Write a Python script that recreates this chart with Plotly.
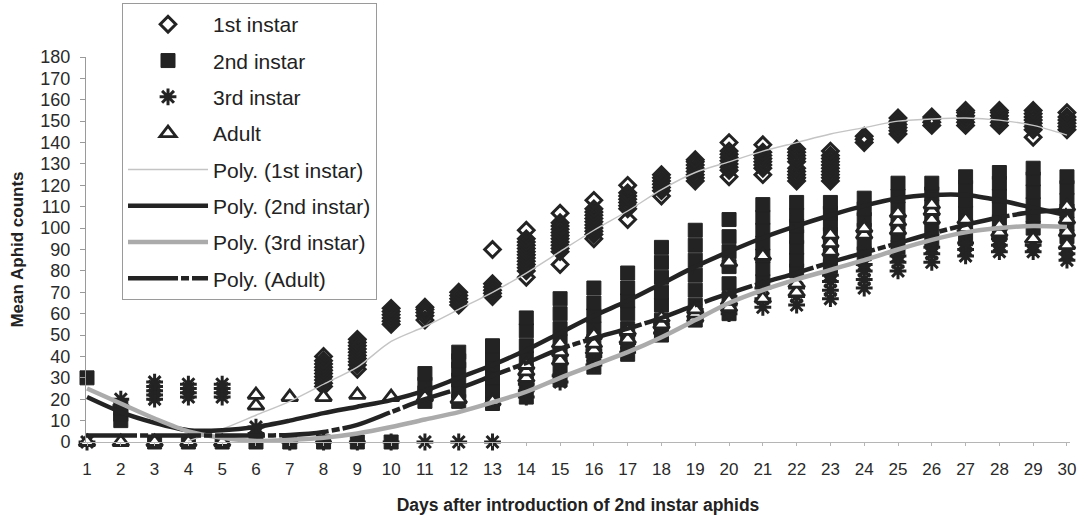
import plotly.graph_objects as go

days = list(range(1, 31))
tick_labels = [str(d) for d in days]

# replicate counts per day
first_instar = [
    [], [], [], [], [], [], [],
    [26, 27.5, 29, 30.5, 32, 33.5, 35, 36.5, 38, 40],
    [34, 36, 37.5, 39, 40.5, 42, 43.5, 45, 46.5, 48],
    [55, 56.5, 58, 59.5, 61, 62.5],
    [57, 59, 60.5, 62, 63],
    [64, 65.5, 67, 68.5, 70],
    [68, 69.5, 71, 72.5, 74, 90],
    [77, 80, 81.5, 83, 84.5, 86, 87.5, 89, 90.5, 92, 93.5, 95, 99],
    [83, 89, 90.5, 92, 93.5, 95, 96.5, 98, 99.5, 101, 102.5, 107],
    [95, 97, 98.5, 100, 101.5, 103, 104.5, 106, 107.5, 109, 113],
    [104, 109, 110.5, 112, 113.5, 115, 116.5, 120],
    [115, 117.5, 119, 120.5, 122, 123.5, 125],
    [122, 123.5, 125, 126.5, 128, 129.5, 131, 132],
    [124, 127, 128.5, 130, 131.5, 133, 134.5, 136, 140],
    [125, 128, 129.5, 131, 132.5, 134, 135.5, 139],
    [122, 123.5, 125, 126.5, 128, 131, 132.5, 134, 135.5, 137],
    [122, 123.5, 125, 126.5, 128, 129.5, 131, 132.5, 134, 136],
    [140, 141.5, 143],
    [144, 145.5, 147, 148.5, 150, 151.5],
    [148, 149.5, 151, 152],
    [148, 149.5, 151, 152.5, 154, 155],
    [148, 149.5, 151, 152.5, 154, 155],
    [142.5, 146, 147.5, 149, 150.5, 152, 153.5, 155],
    [146, 147.5, 149, 150.5, 152, 154],
]

second_instar = [
    [30], [10, 13, 16], [0], [0], [0], [0], [0], [0], [0], [0],
    [19, 23, 27, 32],
    [19, 24, 29, 34, 38, 42],
    [18, 24, 30, 36, 41, 45],
    [21, 27, 33, 39, 45, 52, 58],
    [29, 35, 41, 47, 53, 60, 67],
    [35, 41, 47, 53, 59, 65, 72],
    [41, 47, 53, 60, 66, 72, 79],
    [50, 57, 64, 70, 77, 84, 91],
    [57, 64, 71, 78, 85, 92, 99],
    [60, 67, 74, 82, 89, 96, 104],
    [75, 81, 87, 93, 99, 105, 111],
    [80, 85, 91, 96, 101, 106, 112],
    [82, 87, 92, 97, 102, 107, 112],
    [88, 93, 99, 104, 109, 114],
    [91, 97, 103, 109, 115, 121],
    [94, 100, 105, 110, 116, 121],
    [95, 101, 107, 113, 119, 124],
    [97, 103, 109, 115, 121, 126],
    [100, 106, 111, 117, 123, 128],
    [96, 102, 108, 113, 119, 124],
]

third_instar = [
    [0], [17, 20], [20, 22, 24, 26, 28], [21, 23, 25, 27], [21, 23, 25, 27], [4, 7],
    [0], [0], [0], [0], [0], [0], [0],
    [21, 24, 27], [28, 31], [36, 40, 43], [42, 46, 50], [51, 55], [58, 62],
    [60, 64, 68], [63, 67, 72], [64, 68, 72], [67, 71, 75, 78], [72, 76, 80, 83],
    [80, 84, 87], [84, 88, 91], [87, 90, 93], [89, 92, 95], [89, 92], [85, 88, 91],
]

adult = [
    [0], [0], [0], [0], [0], [17, 22], [21], [21], [22], [21], [21], [20], [19],
    [30, 33, 36], [38, 42, 46], [43, 46, 50], [48, 52], [55, 58], [58, 60, 62],
    [63, 66, 84], [67, 87], [70, 74], [89, 93, 97], [97, 100], [99, 103, 107],
    [104, 108, 111], [100, 104], [98, 101], [95], [92, 98, 104, 110],
]

# polynomial trend lines at each day
poly_first = [None, None, None, 0.5, 6, 12.5, 19, 27, 35, 47, 54, 62, 70, 79, 89,
              99, 108, 118, 126, 131, 136, 140, 144, 147, 150, 151, 151.5, 150.5, 148, 143.5]
poly_second = [21, 14, 9, 5.5, 5.5, 7, 10, 13.5, 16.5, 19.6, 24, 30, 36, 43, 51,
               59, 66, 74, 82, 89, 95.5, 101, 106, 110.5, 114, 115.5, 115.5, 113, 109.5, 106]
poly_third = [25, 18, 11, 5, 2, 0.5, 1, 2, 4, 7, 10.5, 14, 18.5, 23.5, 30,
              36, 42, 49, 57, 65, 71, 76, 80.5, 85, 90, 94.5, 98, 100, 101, 100.5]
poly_adult = [3, 3, 3, 3, 3, 3, 3.3, 4.7, 8, 14, 20, 25, 31, 37, 43.5,
              48.5, 53, 58, 64, 69.5, 74.5, 79, 84, 88.5, 93, 97.5, 101.5, 105, 107.5, 108.5]


def flatten(per_day):
    xs, ys = [], []
    for d, vals in zip(days, per_day):
        for v in vals:
            xs.append(d)
            ys.append(v)
    return xs, ys


DARK = "#232323"
fig = go.Figure()

x, y = flatten(first_instar)
fig.add_trace(go.Scatter(x=x, y=y, mode="markers", name="1st instar", legendgroup="a",
                         cliponaxis=False,
                         marker=dict(symbol="diamond-open", size=12, color=DARK,
                                     line=dict(width=3, color=DARK))))
x, y = flatten(second_instar)
fig.add_trace(go.Scatter(x=x, y=y, mode="markers", name="2nd instar", legendgroup="b",
                         cliponaxis=False,
                         marker=dict(symbol="square", size=14, color=DARK,
                                     line=dict(width=1, color=DARK))))
x, y = flatten(third_instar)
fig.add_trace(go.Scatter(x=x, y=y, mode="markers", name="3rd instar", legendgroup="c",
                         cliponaxis=False,
                         marker=dict(symbol="asterisk-open", size=14, color=DARK,
                                     line=dict(width=3, color=DARK))))
x, y = flatten(adult)
fig.add_trace(go.Scatter(x=x, y=y, mode="markers", name="Adult", legendgroup="d",
                         cliponaxis=False,
                         marker=dict(symbol="triangle-up", size=14, color="white",
                                     line=dict(width=2.8, color=DARK))))

fig.add_trace(go.Scatter(x=days, y=poly_first, mode="lines", name="Poly. (1st instar)",
                         legendgroup="e", line=dict(color="#c4c4c4", width=1.4,
                                                    shape="spline", smoothing=0.8)))
fig.add_trace(go.Scatter(x=days, y=poly_second, mode="lines", name="Poly. (2nd instar)",
                         legendgroup="f", line=dict(color=DARK, width=4.5,
                                                    shape="spline", smoothing=0.8)))
fig.add_trace(go.Scatter(x=days, y=poly_third, mode="lines", name="Poly. (3rd instar)",
                         legendgroup="g", line=dict(color="#ababab", width=4.5,
                                                    shape="spline", smoothing=0.8)))
fig.add_trace(go.Scatter(x=days, y=poly_adult, mode="lines", name="Poly. (Adult)",
                         legendgroup="h", line=dict(color=DARK, width=4.5,
                                                    dash="50px,3px,8px,3px",
                                                    shape="spline", smoothing=0.8)))

SANS = "Liberation Sans, Arial, sans-serif"

fig.update_layout(
    width=1089, height=525,
    margin=dict(l=86, r=19, t=57, b=83, autoexpand=False),
    paper_bgcolor="white", plot_bgcolor="white",
    showlegend=True,
    legend=dict(x=0.0366, y=1.14, xanchor="left", yanchor="top",
                bgcolor="white", bordercolor="#9a9a9a", borderwidth=1,
                font=dict(family=SANS, size=21, color="#222"),
                itemwidth=80, tracegroupgap=6, maxheight=1),
    xaxis=dict(range=[0.97, 30.09], tickmode="array", tickvals=days, ticktext=tick_labels,
               showgrid=False, zeroline=False, showline=True, linecolor="#b5b5b5",
               linewidth=1, ticks="outside", ticklen=3, tickcolor="#b5b5b5",
               ticklabelstandoff=9,
               tickfont=dict(family=SANS, size=17, color="#2a2a2a"),
               title=dict(text="<b>Days after introduction of 2nd instar aphids</b>",
                          font=dict(family=SANS, size=17.5, color="#222"), standoff=20)),
    yaxis=dict(range=[0, 180], dtick=10, showgrid=False, zeroline=False, showline=True,
               linecolor="#9a9a9a", linewidth=1, ticks="outside", ticklen=5,
               tickcolor="#9a9a9a", ticklabelstandoff=6,
               tickfont=dict(family=SANS, size=18, color="#2a2a2a"),
               title=dict(text="<b>Mean Aphid counts</b>",
                          font=dict(family=SANS, size=17, color="#222"), standoff=12)),
)

fig.write_html("out.html")
